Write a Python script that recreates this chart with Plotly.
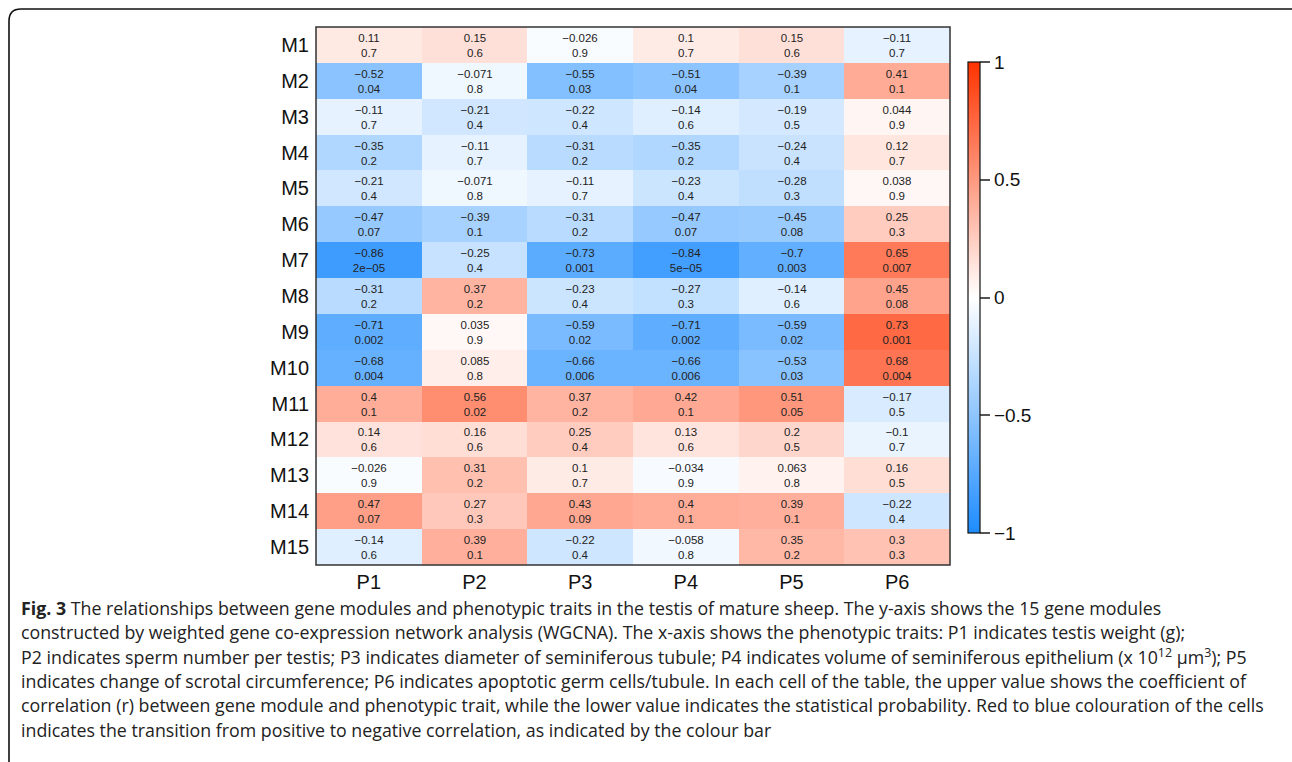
import plotly.graph_objects as go

modules = ["M1", "M2", "M3", "M4", "M5", "M6", "M7", "M8", "M9", "M10",
           "M11", "M12", "M13", "M14", "M15"]
traits = ["P1", "P2", "P3", "P4", "P5", "P6"]

r_values = [
    [0.11, 0.15, -0.026, 0.1, 0.15, -0.11],
    [-0.52, -0.071, -0.55, -0.51, -0.39, 0.41],
    [-0.11, -0.21, -0.22, -0.14, -0.19, 0.044],
    [-0.35, -0.11, -0.31, -0.35, -0.24, 0.12],
    [-0.21, -0.071, -0.11, -0.23, -0.28, 0.038],
    [-0.47, -0.39, -0.31, -0.47, -0.45, 0.25],
    [-0.86, -0.25, -0.73, -0.84, -0.7, 0.65],
    [-0.31, 0.37, -0.23, -0.27, -0.14, 0.45],
    [-0.71, 0.035, -0.59, -0.71, -0.59, 0.73],
    [-0.68, 0.085, -0.66, -0.66, -0.53, 0.68],
    [0.4, 0.56, 0.37, 0.42, 0.51, -0.17],
    [0.14, 0.16, 0.25, 0.13, 0.2, -0.1],
    [-0.026, 0.31, 0.1, -0.034, 0.063, 0.16],
    [0.47, 0.27, 0.43, 0.4, 0.39, -0.22],
    [-0.14, 0.39, -0.22, -0.058, 0.35, 0.3],
]

p_values = [
    ["0.7", "0.6", "0.9", "0.7", "0.6", "0.7"],
    ["0.04", "0.8", "0.03", "0.04", "0.1", "0.1"],
    ["0.7", "0.4", "0.4", "0.6", "0.5", "0.9"],
    ["0.2", "0.7", "0.2", "0.2", "0.4", "0.7"],
    ["0.4", "0.8", "0.7", "0.4", "0.3", "0.9"],
    ["0.07", "0.1", "0.2", "0.07", "0.08", "0.3"],
    ["2e-05", "0.4", "0.001", "5e-05", "0.003", "0.007"],
    ["0.2", "0.2", "0.4", "0.3", "0.6", "0.08"],
    ["0.002", "0.9", "0.02", "0.002", "0.02", "0.001"],
    ["0.004", "0.8", "0.006", "0.006", "0.03", "0.004"],
    ["0.1", "0.02", "0.2", "0.1", "0.05", "0.5"],
    ["0.6", "0.6", "0.4", "0.6", "0.5", "0.7"],
    ["0.9", "0.2", "0.7", "0.9", "0.8", "0.5"],
    ["0.07", "0.3", "0.09", "0.1", "0.1", "0.4"],
    ["0.6", "0.1", "0.4", "0.8", "0.2", "0.3"],
]

colorbar_ticks = [1, 0.5, 0, -0.5, -1]
colorbar_ticktext = ["1", "0.5", "0", "\u22120.5", "\u22121"]

caption_lines = [
    "<b>Fig. 3</b> The relationships between gene modules and phenotypic traits in the testis of mature sheep. The y-axis shows the 15 gene modules",
    "constructed by weighted gene co-expression network analysis (WGCNA). The x-axis shows the phenotypic traits: P1 indicates testis weight (g);",
    "P2 indicates sperm number per testis; P3 indicates diameter of seminiferous tubule; P4 indicates volume of seminiferous epithelium (x 10<sup>12</sup> \u03bcm<sup>3</sup>); P5",
    "indicates change of scrotal circumference; P6 indicates apoptotic germ cells/tubule. In each cell of the table, the upper value shows the coefficient of",
    "correlation (r) between gene module and phenotypic trait, while the lower value indicates the statistical probability. Red to blue colouration of the cells",
    "indicates the transition from positive to negative correlation, as indicated by the colour bar",
]

W, H = 1292, 762


def fx(px):
    return px / W


def fy(py):
    return 1 - py / H


def fmt(v):
    return str(v).replace("-", "\u2212")


cell_text = [[fmt(r) + "<br>" + p.replace("-", "\u2212") for r, p in zip(rr, pp)]
             for rr, pp in zip(r_values, p_values)]

colorscale = [
    [0.0, "rgb(30,140,255)"],
    [0.5, "rgb(255,255,255)"],
    [1.0, "rgb(255,51,0)"],
]

fig = go.Figure()
fig.add_trace(go.Heatmap(
    z=r_values, x=traits, y=modules, text=cell_text,
    texttemplate="%{text}",
    textfont=dict(family="Arial, Liberation Sans", size=11.5, color="#222"),
    colorscale=colorscale, zmin=-1, zmax=1, xgap=0, ygap=0,
    hoverinfo="skip",
    colorbar=dict(
        x=fx(968), xanchor="left", y=fy(297.5), yanchor="middle",
        thickness=12, thicknessmode="pixels",
        len=471, lenmode="pixels",
        outlinecolor="#111", outlinewidth=1.2,
        ticks="outside", ticklen=10, tickwidth=1.5, tickcolor="#555",
        tickvals=colorbar_ticks, ticktext=colorbar_ticktext,
        tickfont=dict(family="Arial, Liberation Sans", size=19, color="#111"),
        xpad=0, ypad=0,
    ),
))

fig.update_xaxes(
    domain=[fx(316), fx(950)], side="bottom", showgrid=False, zeroline=False,
    showline=False, ticks="", tickfont=dict(family="Arial, Liberation Sans", size=20, color="#111"),
    ticklabelstandoff=3,
)
fig.update_yaxes(
    domain=[fy(565), fy(27)], autorange="reversed", showgrid=False, zeroline=False,
    showline=False, ticks="", tickfont=dict(family="Arial, Liberation Sans", size=20, color="#111"),
    ticklabelstandoff=6,
)

shapes = [
    dict(type="rect", xref="paper", yref="paper", x0=fx(316), x1=fx(950),
         y0=fy(565), y1=fy(27), line=dict(color="#333", width=1.5)),
]
# rounded frame around the figure
rad = 12
left, top = 9, 9
right, bottom = W + 20, H + 20
path = (f"M {fx(left)} {fy(bottom)} L {fx(left)} {fy(top + rad)} "
        f"Q {fx(left)} {fy(top)} {fx(left + rad)} {fy(top)} "
        f"L {fx(right)} {fy(top)}")
shapes.append(dict(type="path", xref="paper", yref="paper", path=path,
                   line=dict(color="#111", width=1.6)))

annotations = []
y0 = 608
for i, line in enumerate(caption_lines):
    annotations.append(dict(
        text=line, xref="paper", yref="paper", x=fx(19), y=fy(y0 + i * 24.3),
        xanchor="left", yanchor="middle", showarrow=False, align="left",
        font=dict(family="Open Sans", size=17.8, color="#222"),
    ))

fig.update_layout(
    width=W, height=H, margin=dict(l=0, r=0, t=0, b=0),
    paper_bgcolor="white", plot_bgcolor="white",
    shapes=shapes, annotations=annotations, showlegend=False,
)

fig.write_html("out.html")
